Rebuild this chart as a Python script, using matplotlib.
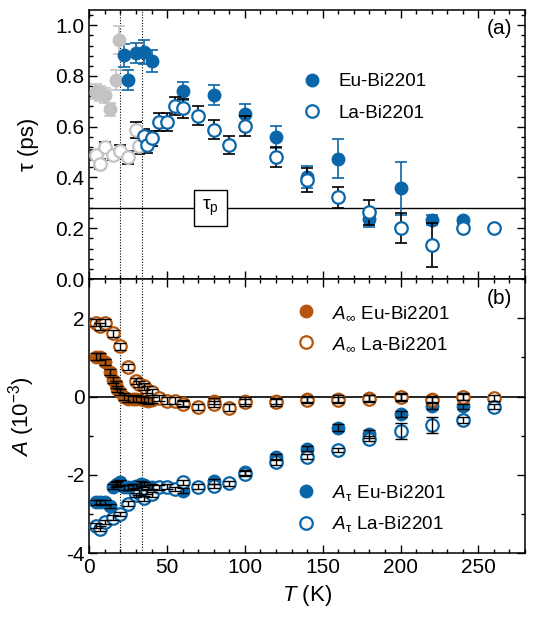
import numpy as np
import matplotlib
matplotlib.use('Agg')
import matplotlib.pyplot as plt
from matplotlib.ticker import MultipleLocator
from matplotlib.lines import Line2D

plt.rcParams['font.family'] = ['Liberation Sans', 'DejaVu Sans']
plt.rcParams['mathtext.fontset'] = 'custom'
plt.rcParams['mathtext.rm'] = 'Liberation Sans'
plt.rcParams['mathtext.it'] = 'Liberation Sans:italic'
plt.rcParams['mathtext.bf'] = 'Liberation Sans:bold'
plt.rcParams['axes.unicode_minus'] = False

# ---------------- data ----------------
Tc_eu = 20
Tc_la = 34
tau_p = 0.28

T_eu_tau = [4, 7, 10, 13, 17, 19, 22, 25, 30, 35, 40, 60, 80, 100, 120, 140, 160, 180, 200, 220, 240]
tau_eu = [0.738, 0.731, 0.724, 0.668, 0.783, 0.94, 0.882, 0.783, 0.891, 0.895, 0.86, 0.741, 0.724,
          0.65, 0.56, 0.403, 0.474, 0.235, 0.357, 0.232, 0.232]
tau_eu_err = [0.03, 0.03, 0.03, 0.027, 0.04, 0.055, 0.045, 0.04, 0.04, 0.046, 0.044, 0.035, 0.04,
              0.038, 0.043, 0.043, 0.076, 0.03, 0.104, 0.02, 0.01]

T_la = [4, 7, 10, 15, 20, 25, 30, 32, 35, 37, 40, 45, 50, 55, 60, 70, 80, 90, 100, 120, 140, 160,
        180, 200, 220, 240, 260]
tau_la = [0.488, 0.453, 0.521, 0.488, 0.504, 0.479, 0.587, 0.524, 0.563, 0.528, 0.554, 0.619, 0.619,
          0.681, 0.672, 0.644, 0.589, 0.528, 0.604, 0.481, 0.39, 0.322, 0.263, 0.2, 0.134, 0.2, 0.2]
tau_la_err = [0.02, 0.02, 0.02, 0.02, 0.025, 0.025, 0.03, 0.03, 0.03, 0.03, 0.03, 0.035, 0.035,
              0.035, 0.036, 0.038, 0.036, 0.035, 0.04, 0.04, 0.047, 0.042, 0.05, 0.06, 0.088, 0.01, 0.01]

T_eu_amp = [4, 7, 10, 13, 15, 17, 18, 20, 22, 25, 28, 30, 33, 35, 38, 40, 60, 80, 100, 120, 140,
            160, 180, 200, 220, 240]
Ainf_eu = [1.02, 1.02, 0.89, 0.63, 0.42, 0.31, 0.20, 0.11, 0.0, -0.05, -0.06, -0.05, -0.07, -0.08,
           -0.1, -0.08, -0.17, -0.12, -0.10, -0.12, -0.06, -0.05, -0.03, 0.0, -0.06, 0.0]
Atau_eu = [-2.70, -2.69, -2.70, -2.79, -2.30, -2.25, -2.22, -2.19, -2.32, -2.32, -2.30, -2.28, -2.22,
           -2.25, -2.32, -2.30, -2.40, -2.16, -1.93, -1.53, -1.33, -0.79, -0.96, -0.45, -0.24, -0.25]
Atau_eu_err = [0.06] * 21 + [0.1, 0.1, 0.08, 0.08, 0.06]

Ainf_la = [1.89, 1.79, 1.89, 1.61, 1.28, 0.76, 0.40, 0.33, 0.26, 0.18, 0.11, -0.03, -0.10, -0.10,
           -0.19, -0.27, -0.18, -0.28, -0.15, -0.15, -0.09, -0.09, -0.05, -0.02, -0.09, -0.01, -0.04]
Atau_la = [-3.29, -3.37, -3.20, -3.09, -3.00, -2.73, -2.51, -2.45, -2.60, -2.42, -2.49, -2.32, -2.30,
           -2.36, -2.19, -2.30, -2.28, -2.21, -1.97, -1.68, -1.53, -1.36, -1.07, -0.88, -0.73, -0.60, -0.26]
Atau_la_err = [0.06] * 23 + [0.2, 0.2, 0.08, 0.06]
Ainf_err = 0.08

BLUE = '#0a66a8'
ORANGE = '#b5560f'
GRAY = '#c3c3c3'

# ---------------- figure ----------------
fig = plt.figure(figsize=(5.35, 6.31), dpi=100)
ax1 = fig.add_axes([0.1669, 0.5578, 0.8144, 0.4264])
ax2 = fig.add_axes([0.1669, 0.1231, 0.8144, 0.4347])

ms = 9.0
mew = 1.6

T_eu_tau_a = np.array(T_eu_tau); tau_eu_a = np.array(tau_eu); tau_eu_err_a = np.array(tau_eu_err)
T_la_a = np.array(T_la); tau_la_a = np.array(tau_la); tau_la_err_a = np.array(tau_la_err)

lo_eu = T_eu_tau_a < Tc_eu
hi_eu = ~lo_eu
lo_la = T_la_a < Tc_la
hi_la = ~lo_la

ax1.axhline(tau_p, color='black', lw=1.0, zorder=1)
for tc in (Tc_eu, Tc_la):
    ax1.axvline(tc, color='black', lw=0.8, ls=(0, (1, 1.5)), zorder=1)
    ax2.axvline(tc, color='black', lw=0.8, ls=(0, (1, 1.5)), zorder=1)

# Eu filled
ax1.errorbar(T_eu_tau_a[lo_eu], tau_eu_a[lo_eu], yerr=tau_eu_err_a[lo_eu], fmt='none',
             ecolor=GRAY, elinewidth=1.2, capsize=4, capthick=1.2, zorder=2)
ax1.errorbar(T_eu_tau_a[hi_eu], tau_eu_a[hi_eu], yerr=tau_eu_err_a[hi_eu], fmt='none',
             ecolor=BLUE, elinewidth=1.2, capsize=4, capthick=1.2, zorder=2)
ax1.plot(T_eu_tau_a[lo_eu], tau_eu_a[lo_eu], 'o', ms=ms, color=GRAY, mec=GRAY, zorder=3)
ax1.plot(T_eu_tau_a[hi_eu], tau_eu_a[hi_eu], 'o', ms=ms, color=BLUE, mec=BLUE, zorder=3)
# La open
ax1.errorbar(T_la_a, tau_la_a, yerr=tau_la_err_a, fmt='none',
             ecolor='black', elinewidth=1.2, capsize=4, capthick=1.2, zorder=4)
ax1.plot(T_la_a[lo_la], tau_la_a[lo_la], 'o', ms=ms, mfc='white', mec=GRAY, mew=mew, zorder=5)
ax1.plot(T_la_a[hi_la], tau_la_a[hi_la], 'o', ms=ms, mfc='white', mec=BLUE, mew=mew, zorder=5)

ax1.text(78, tau_p, r'$\mathrm{τ}_\mathrm{p}$', fontsize=14, ha='center', va='center', zorder=6,
         bbox=dict(boxstyle='square,pad=0.4', fc='white', ec='black', lw=1.0))

ax1.set_xlim(0, 280)
ax1.set_ylim(0, 1.06)
ax1.yaxis.set_major_locator(MultipleLocator(0.2))
ax1.yaxis.set_minor_locator(MultipleLocator(0.04))
ax1.yaxis.set_major_formatter(matplotlib.ticker.FormatStrFormatter('%.1f'))
ax1.set_ylabel('τ (ps)', fontsize=16)
ax1.text(0.97, 0.965, '(a)', transform=ax1.transAxes, fontsize=15, ha='right', va='top')

h1 = [Line2D([], [], ls='none', marker='o', ms=ms, color=BLUE),
      Line2D([], [], ls='none', marker='o', ms=ms, mfc='white', mec=BLUE, mew=mew)]
ax1.legend(h1, ['Eu-Bi2201', 'La-Bi2201'], loc='center left', bbox_to_anchor=(0.49, 0.675),
           frameon=False, fontsize=13.6, handlelength=1.0, handletextpad=0.9, labelspacing=0.75,
           borderpad=0, borderaxespad=0)

# ---------------- bottom panel ----------------
ax2.axhline(0, color='black', lw=1.2, zorder=1)
ax2.plot(T_eu_amp, Ainf_eu, 'o', ms=ms, color=ORANGE, mec=ORANGE, zorder=2)
ax2.plot(T_eu_amp, Atau_eu, 'o', ms=ms, color=BLUE, mec=BLUE, zorder=2)
ax2.plot(T_la, Ainf_la, 'o', ms=ms, mfc='white', mec=ORANGE, mew=mew, zorder=3)
ax2.plot(T_la, Atau_la, 'o', ms=ms, mfc='white', mec=BLUE, mew=mew, zorder=3)
ax2.errorbar(T_eu_amp, Ainf_eu, yerr=Ainf_err, fmt='none', ecolor='black', elinewidth=1.0,
             capsize=4, capthick=1.0, zorder=4)
ax2.errorbar(T_eu_amp, Atau_eu, yerr=Atau_eu_err, fmt='none', ecolor='black', elinewidth=1.0,
             capsize=4, capthick=1.0, zorder=4)
ax2.errorbar(T_la, Ainf_la, yerr=Ainf_err, fmt='none', ecolor='black', elinewidth=1.0,
             capsize=4, capthick=1.0, zorder=4)
ax2.errorbar(T_la, Atau_la, yerr=Atau_la_err, fmt='none', ecolor='black', elinewidth=1.0,
             capsize=4, capthick=1.0, zorder=4)

ax2.set_xlim(0, 280)
ax2.set_ylim(-4, 3)
ax2.yaxis.set_major_locator(MultipleLocator(2))
ax2.yaxis.set_minor_locator(MultipleLocator(1))
ax2.set_xlabel(r'$T$ (K)', fontsize=16)
ax2.set_ylabel(r'$A$ (10$^{-3}$)', fontsize=16)
ax2.text(0.97, 0.965, '(b)', transform=ax2.transAxes, fontsize=15, ha='right', va='top')

h2 = [Line2D([], [], ls='none', marker='o', ms=ms, color=ORANGE),
      Line2D([], [], ls='none', marker='o', ms=ms, mfc='white', mec=ORANGE, mew=mew)]
leg2 = ax2.legend(h2, [r'$A_\infty$ Eu-Bi2201', r'$A_\infty$ La-Bi2201'], loc='center left',
                  bbox_to_anchor=(0.475, 0.82), frameon=False, fontsize=13.6, handlelength=1.0,
                  handletextpad=0.9, labelspacing=0.7, borderpad=0, borderaxespad=0)
ax2.add_artist(leg2)
h3 = [Line2D([], [], ls='none', marker='o', ms=ms, color=BLUE),
      Line2D([], [], ls='none', marker='o', ms=ms, mfc='white', mec=BLUE, mew=mew)]
ax2.legend(h3, [r'$A_\mathrm{τ}$ Eu-Bi2201', r'$A_\mathrm{τ}$ La-Bi2201'], loc='center left',
           bbox_to_anchor=(0.475, 0.163), frameon=False, fontsize=13.6, handlelength=1.0,
           handletextpad=0.9, labelspacing=0.6, borderpad=0, borderaxespad=0)

for ax in (ax1, ax2):
    ax.xaxis.set_major_locator(MultipleLocator(50))
    ax.xaxis.set_minor_locator(MultipleLocator(10))
    ax.tick_params(which='both', direction='in', top=True, right=True, width=1.0)
    ax.tick_params(which='major', length=6, labelsize=15)
    ax.tick_params(which='minor', length=3)
    for s in ax.spines.values():
        s.set_linewidth(1.1)
ax1.tick_params(labelbottom=False)
ax1.yaxis.set_label_coords(-0.115, 0.5)
ax2.yaxis.set_label_coords(-0.12, 0.5)

fig.savefig('out.png', dpi=100)
